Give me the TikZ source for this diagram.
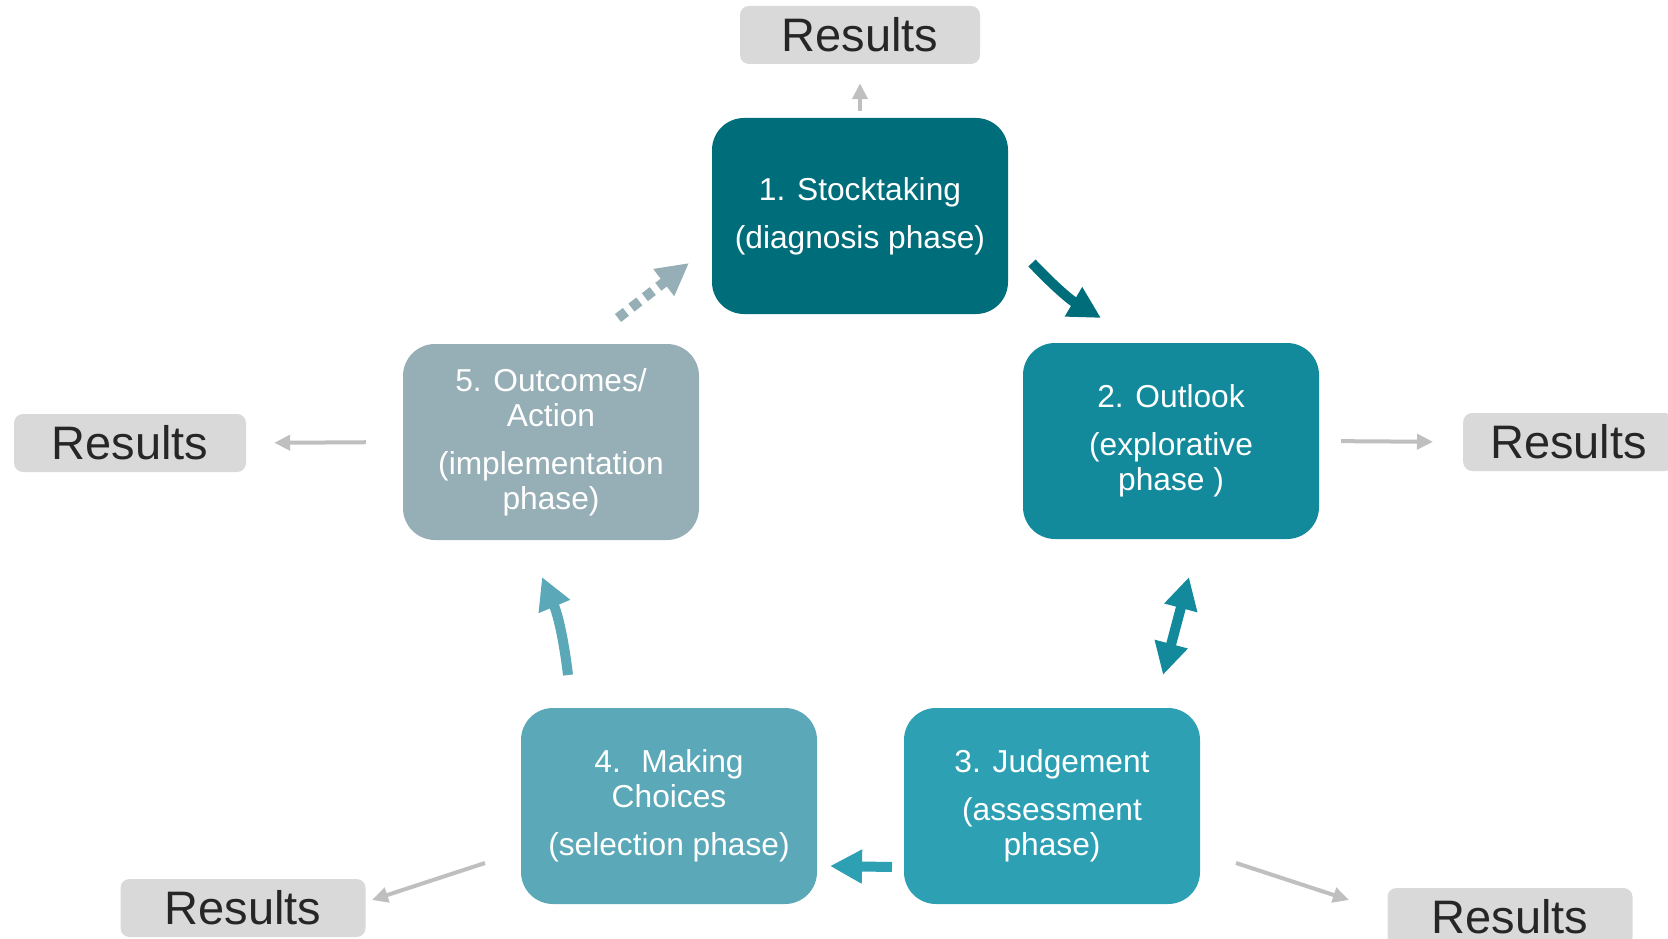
\documentclass[tikz,border=0pt]{standalone}
\usepackage{fontspec}
\setmainfont{Liberation Sans}
\usetikzlibrary{arrows.meta,positioning}
\definecolor{stockcol}{RGB}{0,110,122}
\definecolor{lookcol}{RGB}{19,138,156}
\definecolor{judgecol}{RGB}{46,160,180}
\definecolor{choicecol}{RGB}{91,169,184}
\definecolor{outcol}{RGB}{150,175,182}
\definecolor{resgray}{RGB}{217,217,217}
\definecolor{restext}{RGB}{38,38,38}
\definecolor{arrgray}{RGB}{191,191,191}
\tikzset{phasebox/.style={rounded corners=32pt, minimum width=296pt, minimum height=196pt, inner sep=0pt, text=white, align=center, font=\fontsize{31.7}{35}\selectfont}}
\tikzset{resbox/.style={fill=resgray, rounded corners=9pt, minimum width=240pt, minimum height=58pt, inner sep=0pt, text=restext, font=\fontsize{47}{50}\selectfont}}
\tikzset{resarrow/.style={draw=arrgray, line width=4pt, -{Triangle[width=15pt,length=16pt]}}}
\tikzset{flowarrow/.style={line width=10pt, -{Triangle[width=32pt,length=32pt]}}}

\begin{document}
\begin{tikzpicture}[x=1pt,y=-1pt]
\useasboundingbox (0,0) rectangle (1668,939);

% the five phases
\node[phasebox,fill=stockcol] (stock) at (860,216) {1. Stocktaking\\[13pt](diagnosis phase)};
\node[phasebox,fill=lookcol] (outlook) at (1171,441) {2. Outlook\\[13pt](explorative\\phase )};
\node[phasebox,fill=judgecol] (judge) at (1052,806) {3. Judgement\\[13pt](assessment\\phase)};
\node[phasebox,fill=choicecol] (choice) at (669,806) {4.~ Making\\Choices\\[13pt](selection phase)};
\node[phasebox,fill=outcol] (outcome) at (551,442) {5. Outcomes/\\Action\\[13pt](implementation\\phase)};

% results
\node[resbox] (restop) at (860,35) {Results};
\node[resbox,minimum width=232pt] (resleft) at (130,443) {Results};
\node[resbox,minimum width=0pt,inner xsep=27pt,anchor=west] (resright) at (1463,442) {Results};
\node[resbox,minimum width=245pt] (resbl) at (243,908) {Results};
\node[resbox,minimum width=245pt] (resbr) at (1510,917) {Results};

\draw[resarrow] (stock) -- (restop) [shorten <=7pt, shorten >=19pt];
\draw[resarrow,shorten <=37pt,shorten >=28pt] (outcome.west) -- (resleft.east);
\draw[resarrow,shorten <=22pt,shorten >=30pt] (outlook.east) -- (resright.west);

\coordinate (bl1) at (485,863);
\coordinate (bl2) at (372,900);
\coordinate (br1) at (1236,863);
\coordinate (br2) at (1349,900);
\draw[resarrow] (bl1) -- (bl2);
\draw[resarrow] (br1) -- (br2);

% the cycle
\coordinate (a1) at (1032,263);
\coordinate (a2) at (1101,318);
\coordinate (b1) at (1163,675);
\coordinate (b2) at (1189,577);
\coordinate (c1) at (892,867);
\coordinate (c2) at (830,866);
\coordinate (d1) at (568,675);
\coordinate (d2) at (542,577);
\coordinate (e1) at (618,318);
\coordinate (e2) at (689,263);

\draw[flowarrow,draw=stockcol,fill=stockcol] (a1) to[bend right=8] (a2);
\draw[flowarrow,{Triangle[width=32pt,length=32pt]}-{Triangle[width=32pt,length=32pt]},draw=lookcol] (b1) -- (b2);
\draw[flowarrow,draw=judgecol] (c1) -- (c2);
\draw[flowarrow,draw=choicecol] (d1) to[bend right=8] (d2);
\draw[flowarrow,draw=outcol,dash pattern=on 10pt off 7pt] (e1) -- (e2);
\end{tikzpicture}
\end{document}
